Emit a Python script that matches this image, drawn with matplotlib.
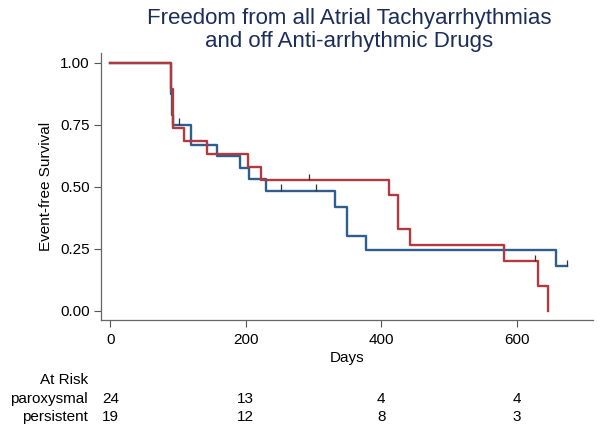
import matplotlib
matplotlib.use('Agg')
import matplotlib.pyplot as plt
import matplotlib.transforms as mtransforms

plt.rcParams['font.family'] = ['Liberation Sans', 'DejaVu Sans']

# Kaplan-Meier steps (day, survival after that day)
parox_days = [0, 90, 91, 92, 119, 157, 192, 204, 230, 332, 350, 378, 659, 675]
parox_surv = [1.0, 0.875, 0.79, 0.75, 0.667, 0.622, 0.577, 0.532, 0.484, 0.42, 0.30, 0.245, 0.18, 0.18]
parox_cens_days = [101, 252, 303, 675]
parox_cens_surv = [0.75, 0.484, 0.484, 0.18]

pers_days = [0, 90, 92, 109, 142, 203, 222, 411, 425, 443, 582, 631, 646]
pers_surv = [1.0, 0.895, 0.737, 0.684, 0.632, 0.579, 0.526, 0.465, 0.33, 0.266, 0.199, 0.10, 0.0]
pers_cens_days = [294, 628]
pers_cens_surv = [0.526, 0.199]

risk_times = [0, 200, 400, 600]
risk_parox = [24, 13, 4, 4]
risk_pers = [19, 12, 8, 3]

blue = '#2e5d8e'
red = '#b23a3f'
navy = '#1c2d5c'
fs = 11

fig = plt.figure(figsize=(6.01, 4.34), dpi=100)
ax = fig.add_axes([101 / 601, 1 - 320 / 434, 492 / 601, 267 / 434])

ax.step(parox_days, parox_surv, where='post', color=blue, lw=1.7)
ax.step(pers_days, pers_surv, where='post', color=red, lw=1.7)

# censoring ticks
ax.vlines(parox_cens_days, parox_cens_surv, [s + 0.025 for s in parox_cens_surv], color='#333333', lw=0.9)
ax.vlines(pers_cens_days, pers_cens_surv, [s + 0.025 for s in pers_cens_surv], color='#333333', lw=0.9)

ax.set_xlim(-14, 713)
ax.set_ylim(-0.0375, 1.039)
ax.set_yticks([0, 0.25, 0.5, 0.75, 1.0])
ax.set_yticklabels(['0.00', '0.25', '0.50', '0.75', '1.00'])
ax.set_xticks(risk_times)
ax.tick_params(axis='both', labelsize=fs, length=5, color='#555555', width=0.8)
ax.tick_params(axis='y', pad=3)
ax.tick_params(axis='x', pad=4)
for s in ['top', 'right']:
    ax.spines[s].set_visible(False)
for s in ['left', 'bottom']:
    ax.spines[s].set_color('#666666')
    ax.spines[s].set_linewidth(0.9)

ax.set_ylabel('Event-free Survival', fontsize=fs, labelpad=5)
ax.set_xlabel('Days', fontsize=fs, labelpad=3)

fig.text(349 / 601, 1 - 30 / 434, 'Freedom from all Atrial Tachyarrhythmias\nand off Anti-arrhythmic Drugs',
         ha='center', va='center', fontsize=16, color=navy, linespacing=1.1)

# at-risk table
trans = mtransforms.blended_transform_factory(ax.transData, fig.transFigure)
fig.text(88 / 601, 1 - 380 / 434, 'At Risk', ha='right', va='center', fontsize=fs)
fig.text(88 / 601, 1 - 399 / 434, 'paroxysmal', ha='right', va='center', fontsize=fs)
fig.text(88 / 601, 1 - 417 / 434, 'persistent', ha='right', va='center', fontsize=fs)
for t, a, b in zip(risk_times, risk_parox, risk_pers):
    ax.text(t, 1 - 399 / 434, str(a), transform=trans, ha='center', va='center', fontsize=fs)
    ax.text(t, 1 - 417 / 434, str(b), transform=trans, ha='center', va='center', fontsize=fs)

fig.savefig('out.png', dpi=100)
